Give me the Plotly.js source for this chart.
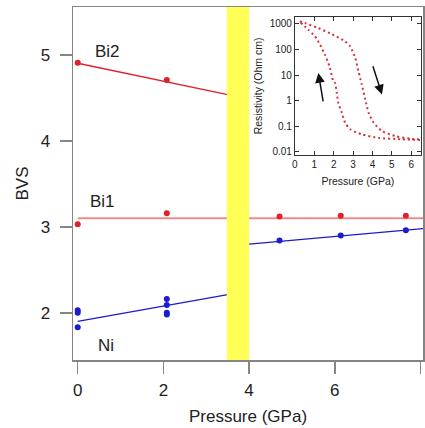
<!DOCTYPE html>
<html>
<head>
<meta charset="utf-8">
<script src="https://cdn.plot.ly/plotly-3.0.1.min.js"></script>
<style>html,body{margin:0;padding:0;background:#fff;}#chart{width:425px;height:428px;}</style>
</head>
<body>
<div id="chart"></div>
<script>
// ---- main panel data (BVS vs pressure) ----
const bi2Pressure = [0, 2.08];
const bi2BVS = [4.91, 4.71];
const bi2FitPressure = [0, 3.5];
const bi2FitBVS = [4.905, 4.54];

const bi1Pressure = [0, 2.08, 4.71, 6.14, 7.66];
const bi1BVS = [3.03, 3.16, 3.12, 3.13, 3.13];
const bi1FitPressure = [0, 8.06];
const bi1FitBVS = [3.10, 3.10];

const niPressure = [0, 0, 0, 2.08, 2.08, 2.08, 2.08, 4.71, 6.14, 7.66];
const niBVS = [2.03, 2.00, 1.83, 2.16, 2.09, 2.00, 1.98, 2.84, 2.90, 2.96];
const niFitLowPressure = [0, 3.5];
const niFitLowBVS = [1.90, 2.21];
const niFitHighPressure = [4.0, 8.06];
const niFitHighBVS = [2.80, 2.98];

const transitionBand = [3.48, 4.0];

// ---- inset data (resistivity vs pressure) ----
const upPressure = [0.26, 0.52, 1.21, 1.90, 2.59, 2.85, 3.11, 3.28, 3.45, 3.63, 3.80, 4.06, 4.49, 5.18, 6.05, 6.56];
const upResistivity = [1230, 1070, 676, 398, 204, 132, 46.8, 13.8, 4.3, 1.1, 0.34, 0.138, 0.065, 0.041, 0.032, 0.031];
const downPressure = [0.30, 0.69, 1.04, 1.30, 1.55, 1.81, 1.98, 2.07, 2.16, 2.24, 2.42, 2.59, 2.85, 3.45, 4.32, 5.53, 6.56];
const downResistivity = [1100, 589, 324, 151, 62, 19, 5.6, 4.9, 2.0, 0.81, 0.34, 0.138, 0.076, 0.048, 0.035, 0.031, 0.029];

const insetYTicks = [0.01, 0.1, 1, 10, 100, 1000];
const insetYTickText = ['0.01', '0.1', '1', '10', '100', '1000'];

const red = '#e0202a';
const blue = '#1c1ccc';
const axisGray = '#858585';

const traces = [
  {x: bi1FitPressure, y: bi1FitBVS, mode: 'lines', line: {color: '#f08a8a', width: 2}, hoverinfo: 'skip'},
  {x: bi2FitPressure, y: bi2FitBVS, mode: 'lines', line: {color: red, width: 1.3}, hoverinfo: 'skip'},
  {x: niFitLowPressure, y: niFitLowBVS, mode: 'lines', line: {color: blue, width: 1.3}, hoverinfo: 'skip'},
  {x: niFitHighPressure, y: niFitHighBVS, mode: 'lines', line: {color: blue, width: 1.3}, hoverinfo: 'skip'},
  {x: bi2Pressure, y: bi2BVS, mode: 'markers', marker: {color: red, size: 6}},
  {x: bi1Pressure, y: bi1BVS, mode: 'markers', marker: {color: red, size: 6}},
  {x: niPressure, y: niBVS, mode: 'markers', marker: {color: blue, size: 6}},
  {x: upPressure, y: upResistivity, xaxis: 'x2', yaxis: 'y2', mode: 'lines',
   line: {color: '#d8303a', width: 2, dash: '2px,3px', shape: 'spline', smoothing: 0.6}},
  {x: downPressure, y: downResistivity, xaxis: 'x2', yaxis: 'y2', mode: 'lines',
   line: {color: '#d8303a', width: 2, dash: '2px,3px', shape: 'spline', smoothing: 0.6}}
];

const font = {family: 'Liberation Sans, Arial, sans-serif', color: '#222'};

const layout = {
  width: 425, height: 428,
  margin: {l: 73, r: 2, t: 7, b: 68},
  paper_bgcolor: '#fff', plot_bgcolor: '#fff',
  showlegend: false,
  font: font,
  xaxis: {
    range: [-0.11, 8.06], tickvals: [0, 2, 4, 6, 8], ticks: 'outside', ticklen: 12, tickwidth: 1.5,
    tickcolor: axisGray, showline: true, linecolor: axisGray, linewidth: 1.5, mirror: true,
    showgrid: false, zeroline: false, tickfont: {size: 17, color: '#222'}, ticklabelstandoff: 2,
    title: {text: 'Pressure (GPa)', font: {size: 17, color: '#222'}, standoff: 11}
  },
  yaxis: {
    range: [1.45, 5.56], tickvals: [2, 3, 4, 5], ticks: 'outside', ticklen: 12, tickwidth: 1.5,
    tickcolor: axisGray, showline: true, linecolor: axisGray, linewidth: 1.5, mirror: true,
    showgrid: false, zeroline: false, tickfont: {size: 17, color: '#222'}, ticklabelstandoff: 6,
    title: {text: 'BVS', font: {size: 17, color: '#222'}, standoff: 7}
  },
  xaxis2: {
    domain: [0.634, 0.994], anchor: 'y2', range: [0, 6.5], dtick: 1, ticks: 'inside', ticklen: 4,
    tickcolor: '#333', showline: true, linecolor: '#333', linewidth: 1, mirror: 'ticks',
    showgrid: false, zeroline: false, tickfont: {size: 10, color: '#222'},
    title: {text: 'Pressure (GPa)', font: {size: 10.5, color: '#222'}, standoff: 8}
  },
  yaxis2: {
    domain: [0.581, 0.972], anchor: 'x2', type: 'log', range: [-2.12, 3.27],
    tickvals: insetYTicks, ticktext: insetYTickText, ticks: 'inside', ticklen: 4,
    tickcolor: '#333', showline: true, linecolor: '#333', linewidth: 1, mirror: 'ticks',
    showgrid: false, zeroline: false, tickfont: {size: 10, color: '#222'},
    title: {text: 'Resistivity (Ohm cm)', font: {size: 10.5, color: '#222'}, standoff: 4}
  },
  shapes: [
    {type: 'rect', xref: 'x', yref: 'y domain', x0: transitionBand[0], x1: transitionBand[1], y0: 0, y1: 1,
     fillcolor: '#ffff55', line: {width: 0}, layer: 'above'}
  ],
  annotations: [
    {x: 0.70, y: 5.04, xref: 'x', yref: 'y', text: 'Bi2', showarrow: false, font: {size: 17, color: '#222'}},
    {x: 0.59, y: 3.29, xref: 'x', yref: 'y', text: 'Bi1', showarrow: false, font: {size: 17, color: '#222'}},
    {x: 0.66, y: 1.62, xref: 'x', yref: 'y', text: 'Ni', showarrow: false, font: {size: 17, color: '#222'}},
    {x: 1.21, y: 1.08, ax: 1.47, ay: -0.09, xref: 'x2', yref: 'y2', axref: 'x2', ayref: 'y2',
     text: '', showarrow: true, arrowhead: 2, arrowsize: 1.3, arrowwidth: 1.5, arrowcolor: '#111'},
    {x: 4.49, y: 0.24, ax: 4.0, ay: 1.4, xref: 'x2', yref: 'y2', axref: 'x2', ayref: 'y2',
     text: '', showarrow: true, arrowhead: 2, arrowsize: 1.3, arrowwidth: 1.5, arrowcolor: '#111'}
  ]
};

Plotly.newPlot('chart', traces, layout, {staticPlot: true, displayModeBar: false});
</script>
</body>
</html>
